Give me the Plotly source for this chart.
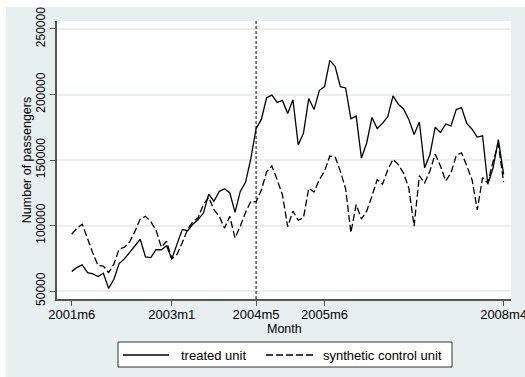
import plotly.graph_objects as go

# ---- data ----
start_year, start_month, n_months = 2001, 6, 83
months = []
y, m = start_year, start_month
for _ in range(n_months):
    months.append(f"{y}m{m}")
    m += 1
    if m > 12:
        m = 1
        y += 1

treated = [65000, 68000, 70000, 64000, 63000, 61000, 63500, 52000, 59000, 71000,
           74500, 79500, 84000, 89500, 76000, 75500, 81500, 81500, 84500, 74500,
           86000, 97000, 96000, 101000, 104500, 109500, 124000, 118500, 126000, 128000,
           125000, 110000, 126000, 133000, 151000, 174000, 181000, 197500, 199500, 194000,
           195500, 185500, 196000, 161500, 170500, 197000, 188500, 203000, 206000, 226000,
           221500, 206000, 205000, 181500, 183500, 151500, 163000, 182500, 174000, 178000,
           183000, 199000, 192500, 189000, 181000, 169500, 179000, 144000, 154000, 175000,
           171000, 177500, 176000, 188500, 190000, 178000, 173500, 167500, 168500, 131500,
           144000, 165500, 139000]

synthetic = [93500, 98000, 101000, 89500, 79000, 69500, 69000, 64000, 70500, 82000,
             83500, 87500, 95500, 105000, 107000, 103000, 96500, 83500, 88000, 74500,
             78000, 87000, 97000, 103000, 106000, 116000, 121500, 112000, 107000, 98000,
             107000, 90500, 99500, 110000, 118500, 118000, 127000, 141000, 145500, 135000,
             123500, 99000, 111000, 104000, 106000, 128500, 125500, 135000, 141500, 153000,
             152500, 141500, 128000, 94500, 116000, 105000, 111000, 122500, 135000, 131500,
             142500, 150500, 146500, 140000, 128500, 99500, 138000, 132500, 141500, 154500,
             145500, 134000, 140000, 153500, 155500, 145500, 135000, 112000, 136500, 132500,
             149000, 162000, 133000]

series_names = ["treated unit", "synthetic control unit"]
x_ticks = ["2001m6", "2003m1", "2004m5", "2005m6", "2008m4"]
y_ticks = [50000, 100000, 150000, 200000, 250000]
treatment_month = "2004m5"
x_title = "Month"
y_title = "Number of passengers"

# ---- styling ----
GRAY_BG = "#e7eff1"
AXIS = "#555555"
FONT = "Liberation Sans, Arial, sans-serif"
W, H = 525, 377
L, R, T, B = 57, 14, 21, 78
PW, PH = W - L - R, H - T - B


def px(xp):
    return (xp - L) / PW


def py(yp):
    return (H - B - yp) / PH


fig = go.Figure()
fig.add_trace(go.Scatter(x=months, y=treated, mode="lines", name=series_names[0],
                         line=dict(color="black", width=1.3), showlegend=False))
fig.add_trace(go.Scatter(x=months, y=synthetic, mode="lines", name=series_names[1],
                         line=dict(color="black", width=1.3, dash="7px,3px"), showlegend=False))

# vertical treatment line
fig.add_shape(type="line", xref="x", yref="paper",
              x0=treatment_month, x1=treatment_month, y0=0, y1=1,
              line=dict(color="black", width=1, dash="3px,2px"))

# white strips at top/left edges of the image
fig.add_shape(type="rect", xref="paper", yref="paper", x0=px(-20), x1=px(W + 20),
              y0=py(7), y1=py(-20), fillcolor="white", line=dict(width=0), layer="below")
fig.add_shape(type="rect", xref="paper", yref="paper", x0=px(-20), x1=px(6),
              y0=py(H + 20), y1=py(-20), fillcolor="white", line=dict(width=0), layer="below")

# x-axis title
fig.add_annotation(xref="paper", yref="paper", x=0.5, y=py(329), text=x_title,
                   showarrow=False, xanchor="center", yanchor="middle", font=dict(size=12.5))

# legend box (drawn manually to match the reference layout)
fig.add_shape(type="rect", xref="paper", yref="paper", x0=px(118), x1=px(452),
              y0=py(367), y1=py(342), fillcolor="white", line=dict(color="#333333", width=1))
fig.add_shape(type="line", xref="paper", yref="paper", x0=px(123), x1=px(169),
              y0=py(355), y1=py(355), line=dict(color="black", width=1.3))
fig.add_shape(type="line", xref="paper", yref="paper", x0=px(266), x1=px(315),
              y0=py(355), y1=py(355), line=dict(color="black", width=1.3, dash="7px,3px"))
fig.add_annotation(xref="paper", yref="paper", x=px(179), y=py(355), text=series_names[0],
                   showarrow=False, xanchor="left", yanchor="middle", font=dict(size=13))
fig.add_annotation(xref="paper", yref="paper", x=px(321), y=py(355), text=series_names[1],
                   showarrow=False, xanchor="left", yanchor="middle", font=dict(size=13))

fig.update_layout(
    width=W, height=H,
    margin=dict(l=L, r=R, t=T, b=B),
    paper_bgcolor=GRAY_BG, plot_bgcolor="white",
    font=dict(family=FONT, size=12.5, color="black"),
    showlegend=False,
)
fig.update_xaxes(
    type="category", range=[-2.8, 83.4], automargin=False,
    tickmode="array", tickvals=x_ticks, ticktext=x_ticks,
    showgrid=False, zeroline=False,
    showline=True, linecolor=AXIS, linewidth=1.5,
    ticks="outside", ticklen=5, tickcolor=AXIS, tickwidth=1,
    tickfont=dict(size=13), tickangle=0, ticklabelstandoff=-2,
)
fig.update_yaxes(
    range=[43900, 256100], automargin=False,
    tickmode="array", tickvals=y_ticks, ticktext=[str(v) for v in y_ticks],
    showgrid=True, gridcolor=GRAY_BG, gridwidth=1.5, zeroline=False,
    showline=True, linecolor=AXIS, linewidth=1.5,
    ticks="outside", ticklen=5, tickcolor=AXIS, tickwidth=1,
    tickangle=-90,
    tickfont=dict(size=12, family="Liberation Sans Narrow, Arial Narrow, Liberation Sans, sans-serif"),
    title=dict(text=y_title, standoff=0, font=dict(size=12.5)),
)

fig.write_html("out.html", config={"displayModeBar": False},
               post_script="document.body.style.margin='0';document.body.style.overflow='hidden';")
